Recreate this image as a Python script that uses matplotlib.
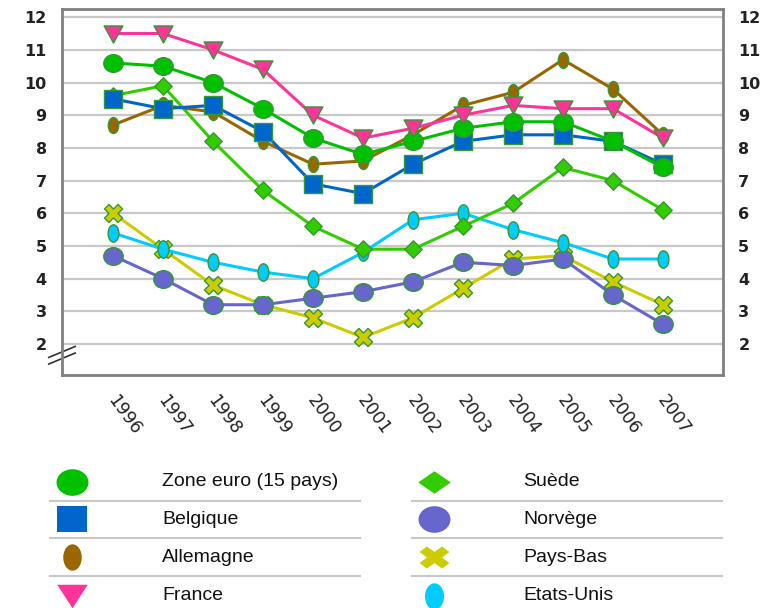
import matplotlib.pyplot as plt
import numpy as np
from matplotlib.markers import MarkerStyle
from matplotlib.transforms import Affine2D, ScaledTranslation

years = [1996, 1997, 1998, 1999, 2000, 2001, 2002, 2003, 2004, 2005, 2006, 2007]

zone_euro = [10.6, 10.5, 10.0, 9.2, 8.3, 7.8, 8.2, 8.6, 8.8, 8.8, 8.2, 7.4]
belgique = [9.5, 9.2, 9.3, 8.5, 6.9, 6.6, 7.5, 8.2, 8.4, 8.4, 8.2, 7.5]
allemagne = [8.7, 9.3, 9.1, 8.2, 7.5, 7.6, 8.4, 9.3, 9.7, 10.7, 9.8, 8.4]
france = [11.5, 11.5, 11.0, 10.4, 9.0, 8.3, 8.6, 9.0, 9.3, 9.2, 9.2, 8.3]
suede = [9.6, 9.9, 8.2, 6.7, 5.6, 4.9, 4.9, 5.6, 6.3, 7.4, 7.0, 6.1]
norvege = [4.7, 4.0, 3.2, 3.2, 3.4, 3.6, 3.9, 4.5, 4.4, 4.6, 3.5, 2.6]
pays_bas = [6.0, 4.9, 3.8, 3.2, 2.8, 2.2, 2.8, 3.7, 4.6, 4.7, 3.9, 3.2]
etats_unis = [5.4, 4.9, 4.5, 4.2, 4.0, 4.8, 5.8, 6.0, 5.5, 5.1, 4.6, 4.6]

names = ['Zone euro (15 pays)', 'Belgique', 'Allemagne', 'France',
         'Suède', 'Norvège', 'Pays-Bas', 'Etats-Unis']
series = [zone_euro, belgique, allemagne, france, suede, norvege, pays_bas, etats_unis]
colors = ['#00C000', '#0066CC', '#996600', '#FF3399',
          '#33CC00', '#6666CC', '#CCCC00', '#00CCFF']
base_mk = ['o', 's', 'o', 'v', 'D', 'o', 'X', 'o']
# shape stretch (x) used in the chart and in the legend
chart_sx = [1.1, 1.0, 0.65, 1.1, 1.0, 1.1, 1.0, 0.62]
chart_ms = [14, 12.5, 11.5, 13.5, 12.5, 14, 13, 12.5]
leg_sx = [1.2, 1.15, 0.7, 1.3, 1.45, 1.2, 1.35, 0.72]
leg_ms = [23, 21.5, 19, 22, 23.5, 23, 21.5, 19]
draw_order = [6, 5, 7, 4, 2, 1, 0, 3]


def stretched(mk, sx):
    m = MarkerStyle(mk)
    p = m.get_path().transformed(m.get_transform())
    return p.transformed(Affine2D().scale(sx, 1.0))


fig = plt.figure(figsize=(7.65, 6.08), dpi=100)
ax = fig.add_axes([62/765, 1-375/608, (723-62)/765, (375-9)/608])

for i in draw_order:
    ax.plot(years, series[i], color=colors[i], lw=2.2,
            marker=stretched(base_mk[i], chart_sx[i]), ms=chart_ms[i],
            mfc=colors[i], mec='#339933', mew=1.0, zorder=3)

ax.set_xlim(1994.98, 2008.2)
ax.set_ylim(1.05, 12.25)
ax.set_yticks(range(2, 13))
ax.yaxis.grid(True, color='#C8C8C8', lw=1.6)
ax.set_axisbelow(True)
for s in ax.spines.values():
    s.set_color('#808080')
    s.set_linewidth(2)
ax.tick_params(axis='y', length=0, labelright=True, labelsize=11.5, pad=11)
for lab in ax.get_yticklabels():
    lab.set_fontweight('bold')
    lab.set_color('#222222')
ax.set_xticks(years)
ax.set_xticklabels([str(y) for y in years], rotation=-54, ha='left', va='top',
                   rotation_mode='anchor', fontsize=12.5, color='#222222')
ax.tick_params(axis='x', length=0, pad=12)
shift = ScaledTranslation(5/100, 0, fig.dpi_scale_trans)
for lab in ax.get_xticklabels():
    lab.set_transform(lab.get_transform() + shift)

# axis break mark
for dy in (0.0, 0.018):
    ax.plot([-0.02, 0.02], [0.03 + dy, 0.06 + dy], transform=ax.transAxes,
            color='#333333', lw=1.2, clip_on=False)

# legend below
lg = fig.add_axes([0, 0, 1, 1-462/608])
lg.set_xlim(0, 765)
lg.set_ylim(608, 462)
lg.axis('off')
row_y = [482, 519, 557, 596]
for i, nm in enumerate(names):
    col = i // 4
    r = i % 4
    mx = 72 + col * 362
    tx = 162 + col * 361
    lg.plot([mx], [row_y[r]], marker=stretched(base_mk[i], leg_sx[i]), ms=leg_ms[i],
            color=colors[i], mec=colors[i], mew=0, ls='none', clip_on=False)
    lg.text(tx, row_y[r], nm, fontsize=14, family='Liberation Sans',
            va='center', ha='left', color='#111111')
    if r < 3:
        lg.plot([50 + col * 362, 360 + col * 362], [row_y[r] + 19] * 2,
                color='#C8C8C8', lw=1.5)

fig.savefig('out.png', dpi=100)
